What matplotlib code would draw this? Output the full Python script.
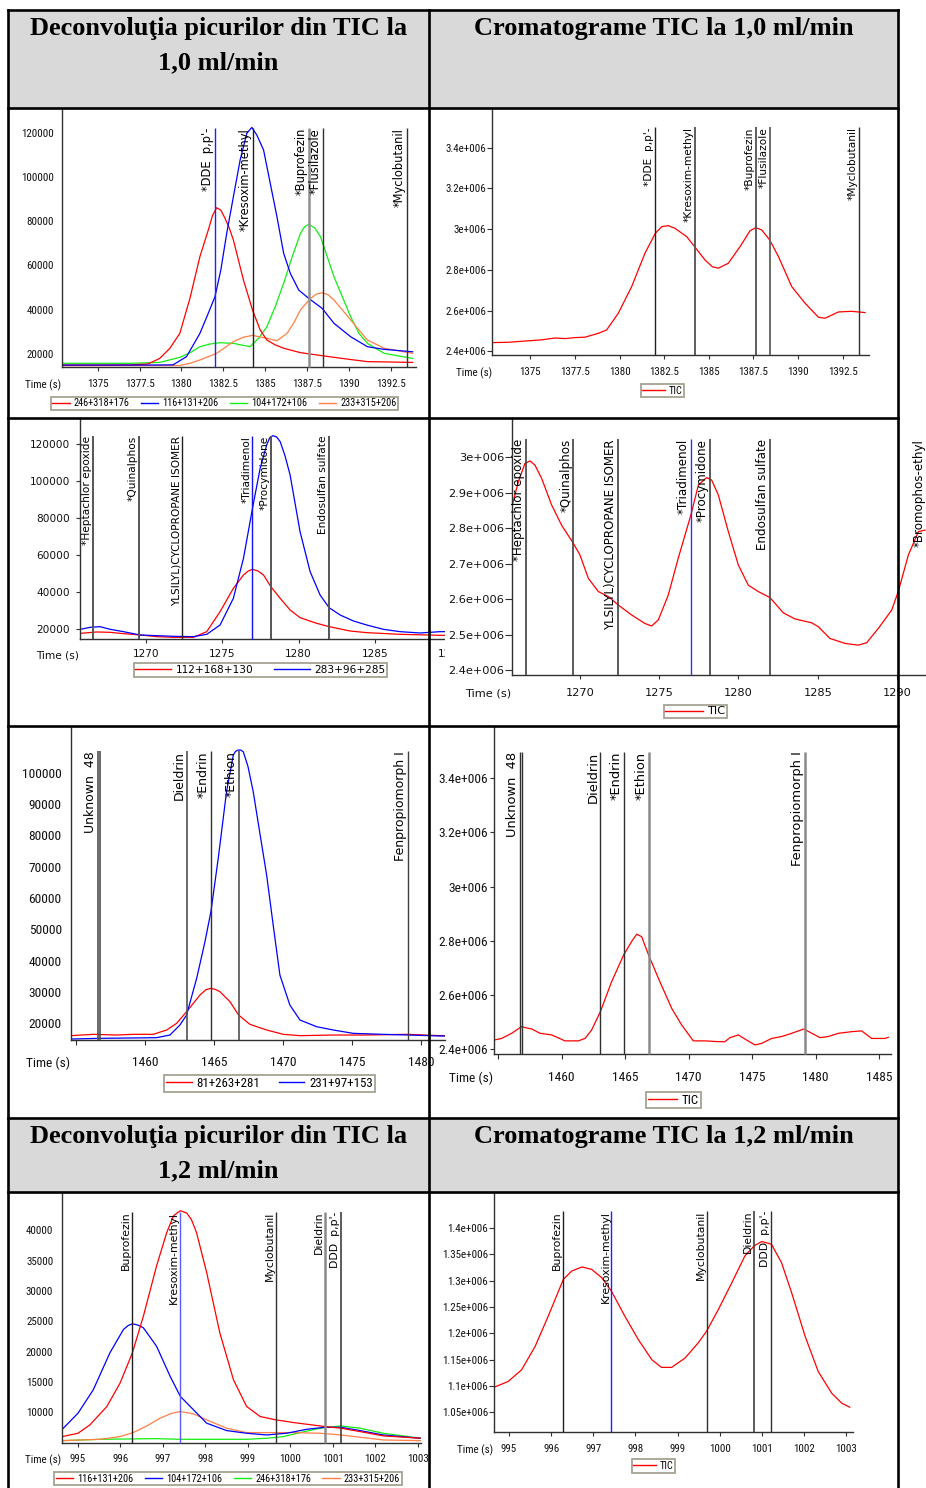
import os
import numpy as np
import matplotlib
matplotlib.use("Agg")
import matplotlib.pyplot as plt
from matplotlib import font_manager as fm
from matplotlib import transforms as mtrans
from matplotlib.lines import Line2D
from matplotlib.patches import Rectangle

W, H = 926, 1488

# ---------------------------------------------------------------- texts
hdr_dec_10 = ["Deconvoluţia picurilor din TIC la", "1,0 ml/min"]
hdr_tic_10 = "Cromatograme TIC la 1,0 ml/min"
hdr_dec_12 = ["Deconvoluţia picurilor din TIC la", "1,2 ml/min"]
hdr_tic_12 = "Cromatograme TIC la 1,2 ml/min"
time_label = "Time (s)"

# ---------------------------------------------------------------- panel 1 (deconv 1.0, 1373-1394 s)
p1_xticks = [1375, 1377.5, 1380, 1382.5, 1385, 1387.5, 1390, 1392.5]
p1_xlabels = ["1375", "1377.5", "1380", "1382.5", "1385", "1387.5", "1390", "1392.5"]
p1_yticks = [20000, 40000, 60000, 80000, 100000, 120000]
p1_ylabels = ["20000", "40000", "60000", "80000", "100000", "120000"]
p1_series = ["246+318+176", "116+131+206", "104+172+106", "233+315+206"]
p1_a_t = [1372.9, 1375, 1377, 1378.0, 1378.7, 1379.3, 1379.9, 1380.5, 1381.1, 1381.6, 1381.85, 1382.1, 1382.35,
          1382.6, 1382.85, 1383.1, 1383.7, 1384.24, 1384.7, 1385.1, 1385.6, 1386.1, 1387.1, 1388.1, 1389.1,
          1390.1, 1391.1, 1393.8]
p1_a_v = [15000, 15000, 15100, 15500, 18000, 22500, 29300, 45000, 64000, 76000, 82500, 86100, 85000,
          81300, 77000, 71500, 53400, 39900, 30800, 26300, 24100, 22600, 20600, 19550, 18500,
          17500, 16550, 16200]
p1_b_t = [1372.9, 1375, 1378, 1379.5, 1380.3, 1381.1, 1381.6, 1382.0, 1382.35, 1382.7, 1383.1, 1383.5, 1383.9,
          1384.2, 1384.5, 1384.9, 1385.3, 1385.7, 1386.1, 1386.5, 1387.0, 1387.6, 1388.4, 1389.1, 1390.1,
          1391.1, 1392.1, 1393.8]
p1_b_v = [15000, 15000, 15000, 15100, 18800, 29300, 38400, 45900, 58000, 74500, 91100, 107600, 119700,
          122400, 118900, 112200, 97100, 82000, 65500, 56400, 48900, 45100, 40600, 33900, 27800,
          23300, 22100, 21000]
p1_c_t = [1372.9, 1377, 1378.7, 1379.9, 1380.5, 1381.1, 1381.7, 1382.3, 1383.1, 1384.1, 1384.6, 1385.1, 1385.6,
          1386.1, 1386.6, 1387.1, 1387.35, 1387.6, 1387.95, 1388.3, 1388.7, 1389.1, 1389.6, 1390.1, 1390.6,
          1391.1, 1392.1, 1393.8]
p1_c_v = [15800, 15800, 16200, 18500, 20500, 23300, 24500, 25100, 24800, 23300, 27100, 32300, 41400,
          52000, 63700, 74500, 77500, 78600, 77000, 73000, 64000, 55000, 45900, 36800, 29300,
          24800, 20300, 18000]
p1_d_t = [1372.9, 1379.9, 1380.5, 1381.1, 1382.1, 1383.1, 1383.7, 1384.24, 1385.1, 1385.7, 1386.3, 1386.7,
          1387.1, 1387.7, 1388.05, 1388.4, 1388.75, 1389.1, 1389.6, 1390.1, 1390.6, 1391.1, 1392.1, 1393.8]
p1_d_v = [14700, 14800, 15800, 17300, 20300, 25600, 27600, 28400, 27100, 26000, 29300, 34000,
          39900, 45100, 47000, 47700, 46800, 44400, 39900, 35400, 30800, 26300, 22600, 20300]
p12_marker_names = ["*DDE  p,p'-", "*Kresoxim-methyl", "*Buprofezin", "*Flusilazole", "*Myclobutanil"]
p1_marker_t = [1382.03, 1384.24, 1387.6, 1388.42, 1393.44]

# ---------------------------------------------------------------- panel 2 (TIC 1.0, 1373-1394 s)
p2_yticks = [2.4e6, 2.6e6, 2.8e6, 3.0e6, 3.2e6, 3.4e6]
p2_ylabels = ["2.4e+006", "2.6e+006", "2.8e+006", "3e+006", "3.2e+006", "3.4e+006"]
p2_t = [1372.93, 1373.77, 1375.0, 1375.64, 1376.38, 1376.94, 1377.5, 1378.06, 1378.81, 1379.28, 1379.93,
        1380.68, 1381.42, 1382.0, 1382.36, 1382.73, 1383.1, 1383.76, 1384.2, 1384.79, 1385.2, 1385.53,
        1386.09, 1386.75, 1387.31, 1387.63, 1387.96, 1388.41, 1388.9, 1389.64, 1390.39, 1391.14, 1391.51,
        1392.26, 1393.0, 1393.75]
p2_v = [2.4426e6, 2.444e6, 2.452e6, 2.456e6, 2.465e6, 2.462e6, 2.467e6, 2.469e6, 2.488e6, 2.505e6, 2.587e6,
        2.718e6, 2.881e6, 2.979e6, 3.012e6, 3.017e6, 3.004e6, 2.963e6, 2.914e6, 2.848e6, 2.815e6, 2.808e6,
        2.832e6, 2.914e6, 2.992e6, 3.007e6, 2.996e6, 2.947e6, 2.865e6, 2.718e6, 2.636e6, 2.567e6, 2.562e6,
        2.593e6, 2.596e6, 2.59e6]
p2_marker_t = [1382.0, 1384.2, 1387.63, 1388.41, 1393.41]

# ---------------------------------------------------------------- panel 3 (deconv 1.0, 1266-1290 s)
p34_xticks = [1270, 1275, 1280, 1285, 1290]
p34_xlabels = ["1270", "1275", "1280", "1285", "1290"]
p3_yticks = [20000, 40000, 60000, 80000, 100000, 120000]
p3_ylabels = ["20000", "40000", "60000", "80000", "100000", "120000"]
p3_series = ["112+168+130", "283+96+285"]
p3_a_t = [1265.73, 1266.8, 1267.67, 1268.54, 1269.63, 1270.72, 1271.81, 1273.12, 1273.99, 1274.86, 1275.73,
          1276.39, 1276.7, 1276.98, 1277.35, 1277.7, 1278.18, 1278.79, 1279.44, 1280.09, 1281.18, 1281.99,
          1283.36, 1284.45, 1286.63, 1289.25, 1290.5]
p3_a_v = [17830, 18550, 18370, 17650, 16930, 16030, 15670, 15670, 18730, 29540, 42150,
          49360, 51500, 52420, 51500, 49360, 43050, 36750, 30440, 26300, 23230, 21430,
          19090, 18190, 17290, 16750, 16750]
p3_b_t = [1265.73, 1266.36, 1267.01, 1267.67, 1268.54, 1269.63, 1270.72, 1271.81, 1273.12, 1273.99, 1274.86,
          1275.73, 1276.39, 1276.98, 1277.48, 1277.91, 1278.1, 1278.31, 1278.55, 1278.79, 1279.1, 1279.44,
          1280.09, 1280.75, 1281.4, 1281.99, 1282.71, 1283.58, 1284.45, 1285.54, 1286.63, 1287.94, 1289.25,
          1290.5]
p3_b_v = [20000, 21070, 21430, 20000, 18730, 16930, 16570, 16210, 16030, 17290, 22330,
          36750, 58370, 85400, 107000, 119640, 123500, 124680, 124000, 121440, 114000, 103420,
          72790, 51160, 38550, 31700, 27740, 24500, 22330, 20000, 18730, 18010, 18730,
          18700]
p34_marker_names = ["*Heptachlor epoxide", "*Quinalphos", "YLSILYL)CYCLOPROPANE ISOMER",
                    "*Triadimenol", "*Procymidone", "Endosulfan sulfate", "*Bromophos-ethyl"]
p3_marker_t = [1266.55, 1269.56, 1272.39, 1276.97, 1278.17, 1281.99]

# ---------------------------------------------------------------- panel 4 (TIC 1.0, 1266-1292 s)
p4_yticks = [2.4e6, 2.5e6, 2.6e6, 2.7e6, 2.8e6, 2.9e6, 3.0e6]
p4_ylabels = ["2.4e+006", "2.5e+006", "2.6e+006", "2.7e+006", "2.8e+006", "2.9e+006", "3e+006"]
p4_t = [1265.73, 1266.11, 1266.53, 1266.85, 1267.16, 1267.58, 1268.21, 1268.84, 1269.58, 1270.0, 1270.53,
        1271.16, 1271.79, 1272.42, 1273.26, 1274.1, 1274.52, 1274.94, 1275.57, 1276.2, 1277.0, 1277.47,
        1277.99, 1278.31, 1278.73, 1279.36, 1279.99, 1280.62, 1281.25, 1281.99, 1282.83, 1283.56, 1284.62,
        1285.04, 1285.77, 1286.72, 1287.56, 1288.09, 1288.82, 1289.67, 1290.08, 1290.72, 1291.35, 1291.77]
p4_v = [2.865e6, 2.93e6, 2.982e6, 2.989e6, 2.977e6, 2.94e6, 2.865e6, 2.808e6, 2.757e6, 2.724e6, 2.658e6,
        2.621e6, 2.607e6, 2.583e6, 2.555e6, 2.531e6, 2.524e6, 2.541e6, 2.611e6, 2.715e6, 2.837e6, 2.921e6,
        2.942e6, 2.935e6, 2.893e6, 2.79e6, 2.696e6, 2.639e6, 2.621e6, 2.604e6, 2.561e6, 2.544e6, 2.533e6,
        2.522e6, 2.489e6, 2.475e6, 2.47e6, 2.477e6, 2.517e6, 2.569e6, 2.621e6, 2.724e6, 2.79e6, 2.794e6]
p4_marker_t = [1266.57, 1269.58, 1272.42, 1277.0, 1278.2, 1281.99, 1291.9]

# ---------------------------------------------------------------- panel 5 (deconv 1.0, 1455-1482 s)
p5_xticks = [1455, 1460, 1465, 1470, 1475, 1480]
p5_xlabels = ["", "1460", "1465", "1470", "1475", "1480"]
p5_yticks = [20000, 30000, 40000, 50000, 60000, 70000, 80000, 90000, 100000]
p5_ylabels = ["20000", "30000", "40000", "50000", "60000", "70000", "80000", "90000", "100000"]
p5_series = ["81+263+281", "231+97+153"]
p5_a_t = [1454.63, 1456.27, 1457.95, 1459.16, 1460.6, 1461.57, 1462.29, 1463.01, 1463.98, 1464.4, 1464.77,
          1465.1, 1465.42, 1466.15, 1466.77, 1467.59, 1468.8, 1470.0, 1471.21, 1473.62, 1476.03, 1479.04,
          1481.33, 1481.7]
p5_a_v = [16050, 16480, 16260, 16480, 16480, 17860, 19990, 23710, 29030, 30700, 31160,
          30800, 30100, 26900, 22650, 19670, 17860, 16480, 16050, 16260, 16260, 16480,
          16050, 16050]
p5_b_t = [1454.63, 1456.75, 1460.84, 1461.81, 1462.53, 1463.01, 1463.74, 1464.34, 1464.77, 1465.3, 1465.9,
          1466.39, 1466.55, 1466.75, 1466.93, 1467.11, 1467.45, 1467.83, 1468.3, 1468.8, 1469.3, 1469.76,
          1470.48, 1471.21, 1472.41, 1473.62, 1475.06, 1477.23, 1479.04, 1481.33, 1481.7]
p5_b_v = [14980, 15200, 15410, 16260, 19460, 22650, 34350, 46050, 55630, 72650, 93940,
          105640, 106800, 107240, 107200, 106700, 102000, 93940, 81000, 67330, 50500, 35410,
          25840, 21050, 18920, 17860, 16790, 16480, 16260, 15950, 15950]
p56_marker_names = ["Unknown  48", "", "Dieldrin", "*Endrin", "*Ethion", "Fenpropiomorph I"]
p5_marker_t = [1456.58, 1456.75, 1463.02, 1464.77, 1466.78, 1479.04]

# ---------------------------------------------------------------- panel 6 (TIC 1.0, 1455-1486 s)
p6_xticks = [1455, 1460, 1465, 1470, 1475, 1480, 1485]
p6_xlabels = ["", "1460", "1465", "1470", "1475", "1480", "1485"]
p6_t = [1454.67, 1455.27, 1456.06, 1456.85, 1457.11, 1457.64, 1458.29, 1459.21, 1460.26, 1461.31, 1461.84,
        1462.36, 1463.05, 1463.94, 1464.88, 1465.51, 1465.91, 1466.3, 1466.85, 1467.62, 1468.67, 1469.45,
        1470.37, 1471.29, 1472.34, 1472.86, 1473.26, 1473.92, 1474.57, 1475.23, 1475.76, 1476.54, 1477.33,
        1478.12, 1479.09, 1479.7, 1480.35, 1481.0, 1481.8, 1482.85, 1483.63, 1484.42, 1485.47, 1485.73]
p6_v = [2.433e6, 2.439e6, 2.458e6, 2.483e6, 2.479e6, 2.474e6, 2.458e6, 2.452e6, 2.43e6, 2.43e6, 2.439e6,
        2.47e6, 2.538e6, 2.649e6, 2.747e6, 2.797e6, 2.824e6, 2.815e6, 2.747e6, 2.661e6, 2.55e6, 2.489e6,
        2.43e6, 2.43e6, 2.427e6, 2.427e6, 2.442e6, 2.452e6, 2.433e6, 2.415e6, 2.421e6, 2.439e6, 2.446e6,
        2.458e6, 2.474e6, 2.458e6, 2.442e6, 2.446e6, 2.458e6, 2.464e6, 2.467e6, 2.439e6, 2.439e6, 2.443e6]
p6_marker_t = [1456.70, 1456.88, 1463.05, 1464.89, 1466.86, 1479.14]

# ---------------------------------------------------------------- panel 7 (deconv 1.2, 995-1003 s)
p78_xticks = [995, 996, 997, 998, 999, 1000, 1001, 1002, 1003]
p78_xlabels = ["995", "996", "997", "998", "999", "1000", "1001", "1002", "1003"]
p7_yticks = [10000, 15000, 20000, 25000, 30000, 35000, 40000]
p7_ylabels = ["10000", "15000", "20000", "25000", "30000", "35000", "40000"]
p7_series = ["116+131+206", "104+172+106", "246+318+176", "233+315+206"]
p7_a_t = [994.63, 995.0, 995.28, 995.68, 995.99, 996.28, 996.54, 996.85, 997.09, 997.25, 997.41, 997.56,
          997.67, 997.79, 998.03, 998.34, 998.66, 998.97, 999.29, 999.66, 1000.07, 1000.82, 1001.19,
          1001.64, 1002.19, 1003.07]
p7_a_v = [5970, 6520, 7900, 10940, 14800, 19780, 25860, 34140, 39670, 42430, 43260, 42870,
          41800, 39670, 33040, 23090, 15360, 10940, 9280, 8730, 8290, 7620, 7350,
          6800, 6080, 5690]
p7_b_t = [994.63, 995.0, 995.36, 995.75, 996.07, 996.18, 996.28, 996.4, 996.54, 996.85, 997.17, 997.41,
          997.72, 998.03, 998.5, 998.97, 999.44, 999.91, 1000.39, 1000.82, 1001.19, 1001.64, 1002.19, 1003.07]
p7_b_v = [7180, 9830, 13700, 19780, 23650, 24300, 24590, 24400, 23920, 20880, 15910, 12600,
          10390, 8180, 6960, 6520, 6240, 6520, 7180, 7510, 7510, 6960, 6240, 5690]
p7_c_t = [994.63, 995.52, 996.85, 997.41, 998.97, 999.44, 999.84, 1000.23, 1000.7, 1001.19, 1001.64,
          1002.19, 1003.07]
p7_c_v = [5300, 5520, 5630, 5520, 5520, 5690, 5970, 6630, 7350, 7730, 7350, 6520, 5690]
p7_d_t = [994.63, 995.52, 995.99, 996.3, 996.62, 996.93, 997.2, 997.41, 997.72, 998.03, 998.5, 998.97, 999.44,
          1000.07, 1000.7, 1001.19, 1001.64, 1002.19, 1003.07]
p7_d_v = [5300, 5520, 5970, 6630, 7730, 9000, 9800, 10110, 9720, 8730, 7350, 6630, 6630,
          6630, 6520, 6240, 5860, 5410, 5300]
p78_marker_names = ["Buprofezin", "Kresoxim-methyl", "Myclobutanil", "Dieldrin", "DDD  p,p'-"]
p7_marker_t = [996.28, 997.41, 999.66, 1000.82, 1001.19]

# ---------------------------------------------------------------- panel 8 (TIC 1.2, 995-1003 s)
p8_yticks = [1.05e6, 1.1e6, 1.15e6, 1.2e6, 1.25e6, 1.3e6, 1.35e6, 1.4e6]
p8_ylabels = ["1.05e+006", "1.1e+006", "1.15e+006", "1.2e+006", "1.25e+006", "1.3e+006", "1.35e+006", "1.4e+006"]
p8_t = [994.65, 994.98, 995.3, 995.62, 995.93, 996.29, 996.49, 996.73, 996.96, 997.2, 997.43, 997.75,
        998.07, 998.39, 998.62, 998.86, 999.18, 999.49, 999.69, 999.97, 1000.29, 1000.6, 1000.82, 1001.0,
        1001.23, 1001.47, 1001.71, 1002.03, 1002.34, 1002.66, 1002.9, 1003.09]
p8_v = [1.0976e6, 1.1084e6, 1.1307e6, 1.1751e6, 1.2323e6, 1.3022e6, 1.3181e6, 1.3257e6, 1.3212e6, 1.3054e6,
        1.28e6, 1.2323e6, 1.1878e6, 1.1497e6, 1.1351e6, 1.1351e6, 1.1529e6, 1.1815e6, 1.2037e6, 1.245e6,
        1.2958e6, 1.3466e6, 1.3657e6, 1.374e6, 1.3689e6, 1.3339e6, 1.2768e6, 1.1942e6, 1.1275e6, 1.0862e6,
        1.0672e6, 1.0595e6]
p8_marker_t = [996.29, 997.43, 999.69, 1000.82, 1001.23]

# ================================================================ styling helpers
RED, BLUE, GREEN, ORANGE = "#ff0000", "#0000ff", "#11ee11", "#ff7f45"
AXC = "#303030"


def find_narrow():
    pref = ["NotoSans-ExtraCondensed.ttf", "LiberationSansNarrow-Regular.ttf", "NotoSans-Condensed.ttf",
            "RobotoCondensed-Regular.ttf", "DejaVuSansCondensed.ttf", "OpenSans-CondensedRegular.ttf"]
    files = {os.path.basename(f.fname): f.fname for f in fm.fontManager.ttflist}
    for p in pref:
        if p in files:
            return files[p]
    for b, f in files.items():
        if ("Narrow" in b or "Condensed" in b) and not any(k in b for k in ["Bold", "Italic", "Oblique", "Light", "Thin", "Black", "Medium", "Semi"]):
            return f
    return None


NARROW = find_narrow()


def fprop(kind, size):
    if kind == "narrow":
        if NARROW:
            return fm.FontProperties(fname=NARROW, size=size)
        return fm.FontProperties(family="DejaVu Sans", size=size * 0.82)
    return fm.FontProperties(family="DejaVu Sans", size=size)


fig = plt.figure(figsize=(W / 100, H / 100), dpi=100)
fig.patch.set_facecolor("white")


def rect(x0, y0, x1, y1):
    return [x0 / W, 1 - y1 / H, (x1 - x0) / W, (y1 - y0) / H]


def panel(box, xlim, ylim, xt, xtl, yt, ytl, prop, xtl_len, xpad, ytl_len, ypad):
    ax = fig.add_axes(rect(*box))
    ax.set_facecolor("white")
    ax.set_xlim(*xlim)
    ax.set_ylim(*ylim)
    for s in ["top", "right"]:
        ax.spines[s].set_visible(False)
    for s in ["left", "bottom"]:
        ax.spines[s].set_color(AXC)
        ax.spines[s].set_linewidth(1.0)
    ax.set_xticks(xt)
    ax.set_xticklabels(xtl)
    ax.set_yticks(yt)
    ax.set_yticklabels(ytl)
    ax.tick_params(axis="x", direction="out", length=xtl_len * 0.72, width=0.8, pad=xpad * 0.72, color=AXC)
    ax.tick_params(axis="y", direction="out", length=ytl_len * 0.72, width=0.8, pad=ypad * 0.72, color=AXC)
    for lab in ax.get_xticklabels() + ax.get_yticklabels():
        lab.set_fontproperties(prop)
        lab.set_color("#111111")
    return ax


def markers(ax, times, names, top, size, colors, widths):
    tr = mtrans.blended_transform_factory(ax.transData, ax.transAxes)
    ttr = mtrans.offset_copy(tr, fig=fig, x=-1.0, y=0, units="dots")
    for t, n, c, w in zip(times, names, colors, widths):
        ax.plot([t, t], [0, top], transform=tr, color=c, lw=w, zorder=3, clip_on=False,
                solid_capstyle="butt")
        if n:
            ax.text(t, top, n, transform=ttr, rotation=90, ha="right", va="top", fontsize=size,
                    family="DejaVu Sans", color="#000000", zorder=4, clip_on=False)


def legend(ax, labels, colors, center, prop, hlen, cspace):
    hs = [Line2D([], [], color=c, lw=1.0) for c in colors]
    lg = ax.legend(hs, labels, loc="center", bbox_to_anchor=(center[0] / W, 1 - center[1] / H),
                   bbox_transform=fig.transFigure, ncol=len(labels), prop=prop, frameon=True,
                   fancybox=False, edgecolor="#a5a293", framealpha=1, borderpad=0.15,
                   handlelength=hlen, handletextpad=0.4, columnspacing=cspace, borderaxespad=0)
    lg.get_frame().set_linewidth(1.3)
    return lg


def tlabel(xr, yc, prop):
    fig.text(xr / W, 1 - yc / H, time_label, ha="right", va="center", fontproperties=prop, color="#111111")


LW = 0.9

# ---------------- panel 1
pr = fprop("narrow", 7.9)
prl = fprop("narrow", 7.4)
ax1 = panel((61.7, 108, 416, 366.7), (1372.85, 1394.0), (14260, 131160), p1_xticks, p1_xlabels,
            p1_yticks, p1_ylabels, pr, 4, 8, 0, 8)
ax1.plot(p1_c_t, p1_c_v, color=GREEN, lw=LW)
ax1.plot(p1_d_t, p1_d_v, color=ORANGE, lw=LW)
ax1.plot(p1_a_t, p1_a_v, color=RED, lw=LW)
ax1.plot(p1_b_t, p1_b_v, color=BLUE, lw=LW)
markers(ax1, p1_marker_t, p12_marker_names, 0.923, 8.3,
        ["#2020ff", "#202020", "#909090", "#303030", "#303030"], [1.0, 1.0, 1.8, 1.0, 1.0])
legend(ax1, p1_series, [RED, BLUE, GREEN, ORANGE], (224.5, 403.5), prl, 1.7, 1.1)
tlabel(61, 385, pr)

# ---------------- panel 2
ax2 = panel((492.3, 108, 869.3, 355.3), (1372.87, 1393.99), (2.38e6, 3.595e6), p1_xticks, p1_xlabels,
            p2_yticks, p2_ylabels, pr, 4, 8, 5, 1)
ax2.plot(p2_t, p2_v, color=RED, lw=LW)
markers(ax2, p2_marker_t, p12_marker_names, 0.922, 7.6,
        ["#202020", "#505050", "#505050", "#606060", "#303030"], [1.0, 1.3, 1.3, 1.3, 1.0])
legend(ax2, ["TIC"], [RED], (662.5, 390.5), prl, 2.2, 1.0)
tlabel(492, 373, pr)

# ---------------- panel 3
pr3 = fprop("regular", 7.6)
ax3 = panel((80.3, 418.3, 460, 639), (1265.72, 1290.55), (14760, 134050), p34_xticks, p34_xlabels,
            p3_yticks, p3_ylabels, pr3, 4, 6, 4, 6)
ax3.plot(p3_a_t, p3_a_v, color=RED, lw=LW)
ax3.plot(p3_b_t, p3_b_v, color=BLUE, lw=LW)
markers(ax3, p3_marker_t, p34_marker_names[:6], 0.921, 7.6,
        ["#555555", "#555555", "#202020", "#1010ff", "#555555", "#555555"], [1.4, 1.4, 1.0, 1.0, 1.4, 1.4])
legend(ax3, p3_series, [RED, BLUE], (260.5, 670), pr3, 3.4, 2.0)
tlabel(79, 655, pr3)

# cover for the overflow of panel 3 under the right-hand chart
cov = fig.add_axes(rect(445, 419, 926, 725))
cov.set_facecolor("white")
cov.set_xticks([])
cov.set_yticks([])
for s in cov.spines.values():
    s.set_visible(False)

# ---------------- panel 4
pr4 = fprop("regular", 8.2)
ax4 = panel((512.3, 418.3, 935, 675), (1265.73, 1292.40), (2.386e6, 3.109e6), p34_xticks, p34_xlabels,
            p4_yticks, p4_ylabels, pr4, 4, 9, 7, 1)
ax4.plot(p4_t, p4_v, color=RED, lw=LW)
markers(ax4, p4_marker_t, p34_marker_names, 0.919, 8.6,
        ["#404040", "#404040", "#404040", "#3030ff", "#404040", "#505050", "#404040"],
        [1.2, 1.2, 1.2, 1.0, 1.2, 1.3, 1.2])
legend(ax4, ["TIC"], [RED], (695.5, 711.5), pr4, 3.3, 1.0)
tlabel(511, 694, pr4)

# ---------------- panel 5
pr5 = fprop("narrow", 9.6)
pr5l = fprop("narrow", 9.3)
ax5 = panel((70.7, 726.7, 445, 1040), (1454.63, 1481.7), (14670, 114680), p5_xticks, p5_xlabels,
            p5_yticks, p5_ylabels, pr5, 5, 11, 0, 9)
ax5.plot(p5_a_t, p5_a_v, color=RED, lw=LW)
ax5.plot(p5_b_t, p5_b_v, color=BLUE, lw=LW)
markers(ax5, p5_marker_t, p56_marker_names, 0.922, 9.0,
        ["#505050", "#505050", "#505050", "#303030", "#505050", "#404040"], [1.2, 1.2, 1.2, 1.0, 1.2, 1.0])
legend(ax5, p5_series, [RED, BLUE], (269.5, 1083.5), pr5l, 2.0, 1.4)
tlabel(70, 1063, pr5)

# ---------------- panel 6
ax6 = panel((494, 726.7, 890.7, 1054.3), (1454.67, 1485.92), (2.3804e6, 3.5906e6), p6_xticks, p6_xlabels,
            p2_yticks, p2_ylabels, pr5, 5, 12, 4, 2)
ax6.plot(p6_t, p6_v, color=RED, lw=LW)
markers(ax6, p6_marker_t, p56_marker_names, 0.924, 9.4,
        ["#303030", "#303030", "#303030", "#303030", "#8a8a8a", "#8a8a8a"], [1.0, 1.0, 1.0, 1.0, 1.8, 1.8])
legend(ax6, ["TIC"], [RED], (673.5, 1100), pr5l, 2.2, 1.0)
tlabel(493, 1078, pr5)

# ---------------- panel 7
ax7 = panel((62.3, 1193, 420.7, 1442.7), (994.63, 1003.07), (4960, 46180), p78_xticks, p78_xlabels,
            p7_yticks, p7_ylabels, pr, 4, 7, 0, 9)
ax7.plot(p7_c_t, p7_c_v, color=GREEN, lw=LW)
ax7.plot(p7_d_t, p7_d_v, color=ORANGE, lw=LW)
ax7.plot(p7_b_t, p7_b_v, color=BLUE, lw=LW)
ax7.plot(p7_a_t, p7_a_v, color=RED, lw=LW)
markers(ax7, p7_marker_t, p78_marker_names, 0.925, 7.8,
        ["#202020", "#5a5aff", "#303030", "#8a8a8a", "#404040"], [1.0, 1.0, 1.0, 1.8, 1.2])
legend(ax7, p7_series, [RED, BLUE, GREEN, ORANGE], (228, 1478.5), prl, 1.7, 1.1)
tlabel(61, 1460, pr)

# ---------------- panel 8
ax8 = panel((494.3, 1193, 852.7, 1432.3), (994.65, 1003.16), (1.0119e6, 1.4661e6), p78_xticks, p78_xlabels,
            p8_yticks, p8_ylabels, pr, 4, 8, 5, 1)
ax8.plot(p8_t, p8_v, color=RED, lw=LW)
markers(ax8, p8_marker_t, p78_marker_names, 0.925, 7.8,
        ["#202020", "#2020ff", "#303030", "#404040", "#303030"], [1.0, 1.0, 1.0, 1.2, 1.0])
legend(ax8, ["TIC"], [RED], (653.5, 1466), prl, 2.2, 1.0)
tlabel(493, 1450, pr)

# ================================================================ table overlay
ov = fig.add_axes([0, 0, 1, 1])
ov.set_xlim(0, W)
ov.set_ylim(H, 0)
ov.set_axis_off()
ov.patch.set_alpha(0)

GRAY = "#d9d9d9"
ov.add_patch(Rectangle((8, 9.5), 890, 98.5, facecolor=GRAY, edgecolor="none", zorder=1))
ov.add_patch(Rectangle((8, 1118), 890, 74, facecolor=GRAY, edgecolor="none", zorder=1))

hfont = dict(family="Liberation Serif", weight="bold", fontsize=19.0, color="black", zorder=5)
ov.text(218.5, 35, hdr_dec_10[0], ha="center", va="baseline", **hfont)
ov.text(218.5, 69.5, hdr_dec_10[1], ha="center", va="baseline", **hfont)
ov.text(663.5, 35, hdr_tic_10, ha="center", va="baseline", **hfont)
ov.text(218.5, 1143, hdr_dec_12[0], ha="center", va="baseline", **hfont)
ov.text(218.5, 1177, hdr_dec_12[1], ha="center", va="baseline", **hfont)
ov.text(663.5, 1143, hdr_tic_12, ha="center", va="baseline", **hfont)

BW = 1.9
for x in (8, 429, 898):
    ov.plot([x, x], [9.5, H + 2], color="black", lw=BW, zorder=6, solid_capstyle="projecting")
for y in (9.5, 108, 418, 726, 1118, 1192):
    ov.plot([8, 898], [y, y], color="black", lw=BW, zorder=6, solid_capstyle="projecting")

fig.savefig("out.png", dpi=100)
